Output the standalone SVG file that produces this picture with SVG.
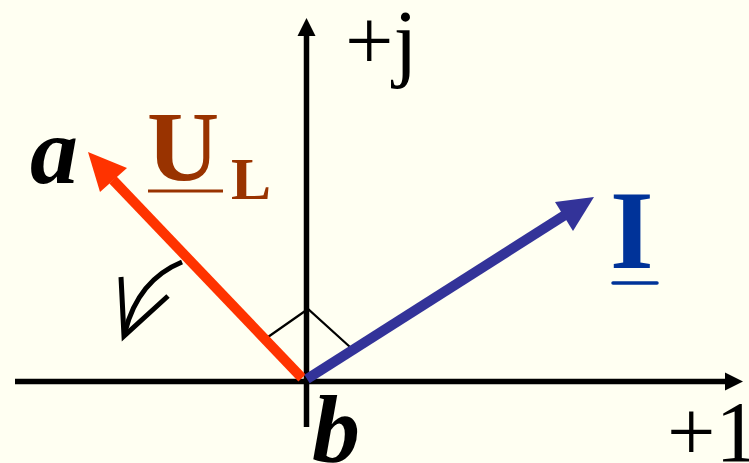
<svg xmlns="http://www.w3.org/2000/svg" width="749" height="463" viewBox="0 0 749 463">
<style>
.ax{stroke:#000;stroke-width:5.5;fill:none}
.thin{stroke:#000;stroke-width:2.2;fill:none}
.serif{font-family:"Liberation Serif","Times New Roman",serif}
.bi{font-weight:bold;font-style:italic;fill:#000}
</style>
<rect width="749" height="463" fill="#FFFFF2"/>
<g id="connectors">
  <line class="ax" x1="15" y1="381.5" x2="727" y2="381.5"/>
  <polygon points="743,381.5 725,372.5 725,390.5" fill="#000"/>
  <line class="ax" x1="306.5" y1="427" x2="306.5" y2="33"/>
  <polygon points="306.5,18 297.5,36 315.5,36" fill="#000"/>
  <polyline class="thin" points="268,337 308,309 350,347"/>
  <line x1="302" y1="378" x2="113" y2="180" stroke="#FF3300" stroke-width="10"/>
  <polygon points="88,152 100,192 127,168" fill="#FF3300"/>
  <line x1="307" y1="379" x2="565" y2="215" stroke="#333399" stroke-width="10"/>
  <polygon points="594,197 573,231 555,202" fill="#333399"/>
  <path d="M182,262 Q138,280 125,332" stroke="#000" stroke-width="5" fill="none"/>
  <polyline points="121,277 124,336 168,296" stroke="#000" stroke-width="5" fill="none"/>
</g>
<g id="label-a"><text class="serif bi" x="30" y="183" font-size="96">a</text></g>
<g id="label-b"><text class="serif bi" x="312" y="461" font-size="96">b</text></g>
<g id="label-UL">
  <text class="serif" x="147" y="180" font-size="100" font-weight="bold" fill="#993300">U</text>
  <text class="serif" x="231" y="199" font-size="60" font-weight="bold" fill="#993300">L</text>
  <line x1="148" y1="191" x2="223" y2="191" stroke="#993300" stroke-width="3"/>
</g>
<g id="label-I">
  <text class="serif" x="610" y="268" font-size="112" font-weight="bold" fill="#003399">I</text>
  <line x1="613" y1="283" x2="657" y2="283" stroke="#003399" stroke-width="3.5" stroke-linecap="round"/>
</g>
<g id="label-j"><text class="serif" x="345" y="70" font-size="86" fill="#000">+j</text></g>
<g id="label-1"><text class="serif" x="667" y="461" font-size="86" fill="#000">+1</text></g>
</svg>
